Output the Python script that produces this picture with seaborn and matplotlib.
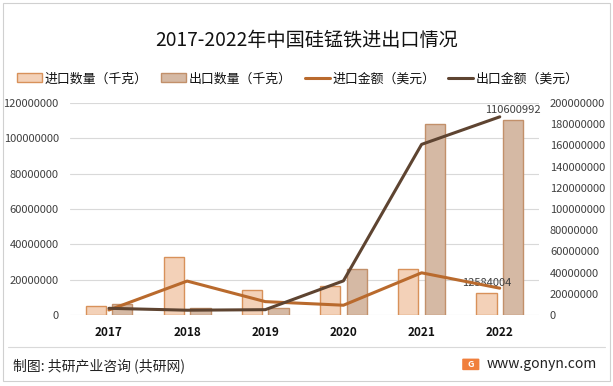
import pandas as pd
import matplotlib
matplotlib.use("Agg")
import matplotlib.pyplot as plt
import matplotlib.patches as mpatches
from matplotlib.lines import Line2D
import seaborn as sns

# -------------------------------
# 1. Data
# -------------------------------
years = ["2017", "2018", "2019", "2020", "2021", "2022"]
import_qty = [5200000, 32600000, 14000000, 16200000, 25900000, 12584004]     # 千克
export_qty = [6100000, 4000000, 4000000, 25900000, 108000000, 110600992]     # 千克
import_amt = [4700000, 32000000, 12600000, 9200000, 39800000, 25300000]      # 美元
export_amt = [6300000, 4500000, 5000000, 32200000, 161000000, 187000000]     # 美元

qty_labels = ["进口数量（千克）", "出口数量（千克）"]
amt_labels = ["进口金额（美元）", "出口金额（美元）"]

# -------------------------------
# 2. Style
# -------------------------------
sns.set_style("white")
plt.rcParams['font.family'] = ['Noto Sans CJK SC', 'DejaVu Sans']

c_imp_fill, c_imp_edge = "#F3D1B8", "#D8915A"
c_exp_fill, c_exp_edge = "#D5B9A4", "#C2906A"
c_imp_line, c_exp_line = "#B96A2D", "#5E4431"
txt = "#404040"

df_qty = pd.DataFrame({
    "year": years * 2,
    "value": import_qty + export_qty,
    "kind": [qty_labels[0]] * len(years) + [qty_labels[1]] * len(years),
})

fig = plt.figure(figsize=(6.13, 3.86), dpi=100)
ax = fig.add_axes([0.114, 0.184, 0.765, 0.549])

# -------------------------------
# 3. Bars (left axis)
# -------------------------------
sns.barplot(data=df_qty, x="year", y="value", hue="kind", ax=ax,
            palette=[c_imp_fill, c_exp_fill], width=0.68, gap=0.235,
            saturation=1, legend=False, zorder=2)
edges = [c_imp_edge] * len(years) + [c_exp_edge] * len(years)
for patch, ec in zip(ax.patches, edges):
    patch.set_edgecolor(ec)
    patch.set_linewidth(1.0)

ax.set_ylim(0, 120000000)
ax.set_yticks(range(0, 120000001, 20000000))
ax.set_yticklabels([str(v) for v in range(0, 120000001, 20000000)])
ax.set_xlim(-0.5, len(years) - 0.5)
ax.grid(axis="y", color="#D9D9D9", linewidth=0.8, zorder=0)
ax.set_axisbelow(True)
ax.set_xlabel("")
ax.set_ylabel("")
for s in ax.spines.values():
    s.set_visible(False)
ax.tick_params(axis="y", length=0, labelsize=8, labelcolor=txt, pad=8)
ax.tick_params(axis="x", length=0, labelsize=8.5, pad=8)
for lbl in ax.get_xticklabels():
    lbl.set_fontweight("bold")
    lbl.set_color("#111111")

# data labels for 2022 bars
ax.text(5 - 0.17, import_qty[-1] + 2500000, str(import_qty[-1]),
        ha="center", va="bottom", fontsize=8, color=txt, zorder=5)
ax.text(5 + 0.17, export_qty[-1] + 2500000, str(export_qty[-1]),
        ha="center", va="bottom", fontsize=8, color=txt, zorder=5)

# -------------------------------
# 4. Lines (right axis)
# -------------------------------
ax2 = ax.twinx()
pos = list(range(len(years)))
sns.lineplot(x=pos, y=import_amt, ax=ax2, color=c_imp_line, linewidth=2.2)
sns.lineplot(x=pos, y=export_amt, ax=ax2, color=c_exp_line, linewidth=2.2)
ax2.set_ylim(0, 200000000)
ax2.set_yticks(range(0, 200000001, 20000000))
ax2.set_yticklabels([str(v) for v in range(0, 200000001, 20000000)])
for s in ax2.spines.values():
    s.set_visible(False)
ax2.tick_params(axis="y", length=0, labelsize=8, labelcolor=txt, pad=8)
ax2.grid(False)

# -------------------------------
# 5. Title, legend, footer
# -------------------------------
fig.text(0.5, 0.895, "2017-2022年中国硅锰铁进出口情况", ha="center", va="center",
         fontsize=13.8, color="#111111")

handles = [
    mpatches.Patch(facecolor=c_imp_fill, edgecolor=c_imp_edge, label=qty_labels[0]),
    mpatches.Patch(facecolor=c_exp_fill, edgecolor=c_exp_edge, label=qty_labels[1]),
    Line2D([], [], color=c_imp_line, linewidth=2.2, label=amt_labels[0]),
    Line2D([], [], color=c_exp_line, linewidth=2.2, label=amt_labels[1]),
]
fig.legend(handles=handles, loc="center left", bbox_to_anchor=(0.026, 0.796), ncol=4,
           frameon=False, fontsize=9.3, handlelength=1.95, handleheight=0.7,
           columnspacing=1.0, handletextpad=0.2, borderpad=0.1, borderaxespad=0,
           labelcolor="#111111")

fig.add_artist(Line2D([0.013, 0.987], [0.101, 0.101], transform=fig.transFigure,
                      color="#D9D9D9", linewidth=0.8))
fig.add_artist(mpatches.Rectangle((0.005, 0.013), 0.99, 0.979, transform=fig.transFigure,
                                  fill=False, edgecolor="#D0D0D0", linewidth=0.8))
fig.text(0.021, 0.052, "制图: 共研产业咨询 (共研网)", ha="left", va="center",
         fontsize=10, color="#222222")
fig.add_artist(mpatches.FancyBboxPatch((0.756, 0.043), 0.024, 0.026, transform=fig.transFigure,
                                       boxstyle="round,pad=0.002", facecolor="#F07F3C",
                                       edgecolor="none"))
fig.text(0.768, 0.056, "G", ha="center", va="center", fontsize=6.5, color="white",
         fontweight="bold")
fig.text(0.974, 0.058, "www.gonyn.com", ha="right", va="center",
         fontsize=10, color="#222222")

fig.savefig("out.png", dpi=100)
